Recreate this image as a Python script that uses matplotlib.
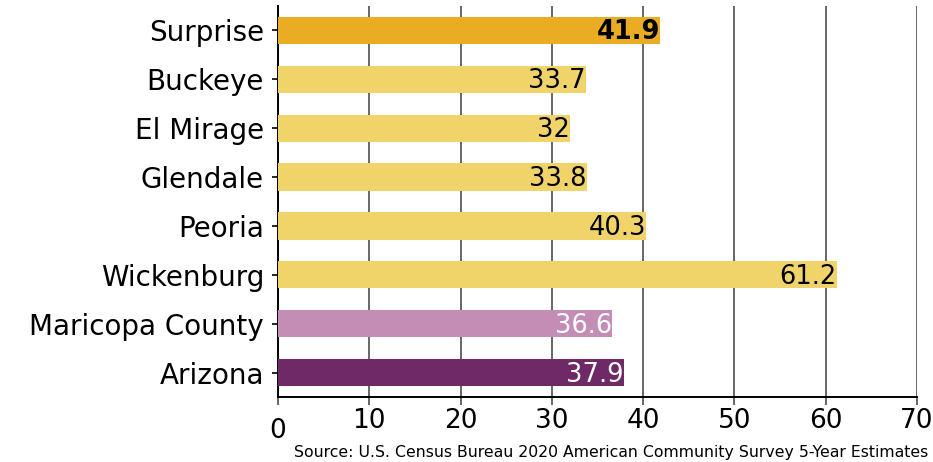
import numpy as np
import matplotlib.pyplot as plt

# data
places = ["Surprise", "Buckeye", "El Mirage", "Glendale", "Peoria",
          "Wickenburg", "Maricopa County", "Arizona"]
ages = [41.9, 33.7, 32, 33.8, 40.3, 61.2, 36.6, 37.9]
barColors = ["#EAAC22", "#F0D46A", "#F0D46A", "#F0D46A", "#F0D46A",
             "#F0D46A", "#C38DB5", "#6E2966"]
labelColors = ["black"] * 6 + ["white", "white"]
xTicks = [0, 10, 20, 30, 40, 50, 60, 70]

plt.rcParams['font.family'] = ['DejaVu Sans']

fig = plt.figure(figsize=(9.33, 4.62), dpi=100)
ax = fig.add_axes([278 / 933, 65 / 462, 639 / 933, 391 / 462])

yPos = np.arange(len(places))
ax.barh(yPos, ages, height=0.56, color=barColors, zorder=3)

for y, v, c in zip(yPos, ages, labelColors):
    weight = "bold" if y == 0 else "normal"
    ax.text(v, y + 0.04, f"{v:g}", ha="right", va="center",
            fontsize=18.5, color=c, weight=weight, zorder=4)

ax.set_ylim(len(places) - 0.5, -0.5)
ax.set_xlim(0, 70)
ax.set_yticks(yPos)
ax.set_yticklabels(places, fontsize=20)
ax.set_xticks(xTicks)
ax.set_xticklabels([str(t) for t in xTicks], fontsize=19)
ax.xaxis.grid(True, color="#666666", linewidth=1.4, zorder=0)

for side in ["top", "right"]:
    ax.spines[side].set_visible(False)
ax.spines["left"].set_linewidth(1.4)
ax.spines["bottom"].set_linewidth(1.4)
ax.tick_params(axis="x", length=6, width=1.4, color="#666666", pad=2)
ax.tick_params(axis="y", length=4, width=1.2, pad=6)

# the "0" label sits a little lower than the others in the original
ax.xaxis.get_major_ticks()[0].set_pad(9)

fig.text(928 / 933, 1 - 452 / 462, "Source: U.S. Census Bureau 2020 American Community Survey 5-Year Estimates",
         ha="right", va="center", fontsize=11.3)

fig.savefig("out.png", dpi=100)
